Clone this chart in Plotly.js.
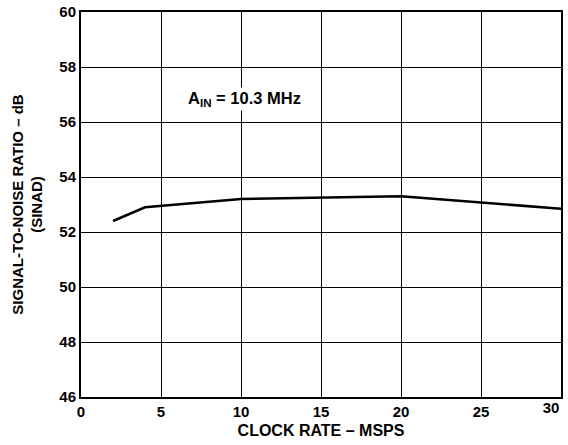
<!DOCTYPE html>
<html><head><meta charset="utf-8">
<script src="https://cdn.plot.ly/plotly-3.0.1.min.js"></script>
<style>html,body{margin:0;padding:0;background:#fff}</style>
</head><body>
<div id="chart" style="width:568px;height:445px"></div>
<script>
const clockRate = [2, 4, 10, 15, 20, 25, 30];
const sinad = [52.4, 52.9, 53.2, 53.24, 53.3, 53.07, 52.85];
const xTicks = [0, 5, 10, 15, 20, 25, 30];
const xTickText = ['0', '5', '10', '15', '20', '25', ''];
const xEdgeTick = [30];
const xEdgeText = ['30'];
const yTicks = [46, 48, 50, 52, 54, 56, 58, 60];
const annotationText = 'A<sub>IN</sub> = 10.3 MHz';

const fam = 'Liberation Sans, Arial, sans-serif';
const tickfont = {family: fam, size: 15, color: '#000', weight: 'bold'};
Plotly.newPlot('chart', [{
  x: clockRate, y: sinad, mode: 'lines', type: 'scatter',
  line: {color: '#000', width: 2.5}, hoverinfo: 'skip'
}, {
  x: clockRate, y: sinad, mode: 'lines', type: 'scatter', xaxis: 'x2', yaxis: 'y',
  line: {color: 'rgba(0,0,0,0)', width: 0.1}, hoverinfo: 'skip'
}], {
  width: 568, height: 445,
  margin: {l: 81, r: 7, t: 12, b: 48},
  paper_bgcolor: '#fff', plot_bgcolor: '#fff',
  showlegend: false,
  font: {family: fam, color: '#000'},
  xaxis: {
    range: [0, 30], tickvals: xTicks, ticktext: xTickText,
    showgrid: true, gridcolor: '#000', gridwidth: 1,
    showline: true, linecolor: '#000', linewidth: 2, mirror: true,
    zeroline: false, ticks: '', ticklen: 0, automargin: false,
    tickfont: tickfont,
    title: {text: '<b>CLOCK RATE – MSPS</b>', font: {family: fam, size: 16, color: '#000'}, standoff: 6}
  },
  xaxis2: {
    overlaying: 'x', side: 'bottom', anchor: 'y', range: [0, 30],
    tickvals: xEdgeTick, ticktext: xEdgeText, ticklabelshift: -10,
    ticklabeloverflow: 'allow',
    showgrid: false, showline: false, zeroline: false, ticks: '', automargin: false,
    tickfont: tickfont
  },
  yaxis: {
    range: [46, 60], tickvals: yTicks, ticktext: yTicks.map(String),
    showgrid: true, gridcolor: '#000', gridwidth: 1,
    showline: true, linecolor: '#000', linewidth: 2, mirror: true,
    zeroline: false, ticks: '', ticklen: 0, automargin: false,
    tickfont: tickfont,
    title: {text: '<b>SIGNAL-TO-NOISE RATIO – dB<br>(SINAD)</b>', font: {family: fam, size: 15, color: '#000'}, standoff: 13}
  },
  annotations: [{
    x: 10.2, y: 56.84, xref: 'x', yref: 'y', showarrow: false,
    text: '<b>' + annotationText + '</b>', font: {family: fam, size: 16.5, color: '#000'},
    bgcolor: '#fff', xanchor: 'center', yanchor: 'middle'
  }]
}, {staticPlot: true});
</script>
</body></html>
